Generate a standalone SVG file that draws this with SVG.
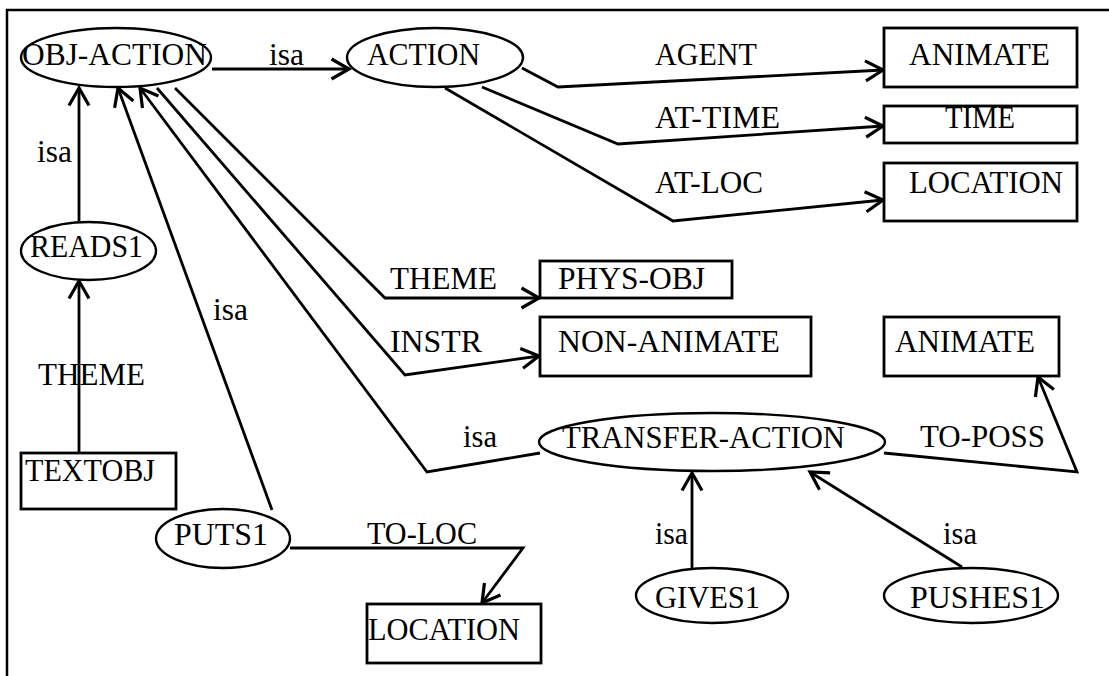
<svg xmlns="http://www.w3.org/2000/svg" width="1109" height="676" viewBox="0 0 1109 676">
<style>
  text { font-size: 32px; fill: #000; }
  .node ellipse, .node rect { fill: #fff; stroke: #000; stroke-width: 2.4; }
  .node rect { stroke-width: 2.8; }
  .conn path { fill: none; stroke: #000; stroke-width: 2.8; marker-end: url(#arr); }
  .frame { fill: none; stroke: #000; stroke-width: 2.5; }
</style>
<defs>
  <marker id="arr" markerUnits="userSpaceOnUse" viewBox="-20 -12 22 24" markerWidth="22" markerHeight="24" refX="0" refY="0" orient="auto" overflow="visible">
    <path d="M-17.5,-10 L0,0 L-17.5,10" fill="none" stroke="#000" stroke-width="3.2"/>
  </marker>
</defs>
<rect width="1109" height="676" fill="#fff"/>
<path class="frame" d="M7,676 L7,10 L1109,10"/>

<g font-family="Liberation Serif, serif">
<g id="connectors" class="conn">
  <path d="M212,69 L349,69"/>
  <text x="269" y="65" textLength="35" lengthAdjust="spacingAndGlyphs">isa</text>
  <path d="M522,68 L558,87 L883,70"/>
  <text x="655" y="65" textLength="102" lengthAdjust="spacingAndGlyphs">AGENT</text>
  <path d="M482,87 L618,144 L883,126"/>
  <text x="655" y="128" textLength="125" lengthAdjust="spacingAndGlyphs">AT-TIME</text>
  <path d="M445,88 L673,221 L883,200"/>
  <text x="655" y="193" textLength="108" lengthAdjust="spacingAndGlyphs">AT-LOC</text>
  <path d="M79,221 L79,88"/>
  <text x="37" y="162" textLength="35" lengthAdjust="spacingAndGlyphs">isa</text>
  <path d="M79,453 L79,281"/>
  <text x="38" y="385" textLength="107" lengthAdjust="spacingAndGlyphs">THEME</text>
  <path d="M272,510 L118,88"/>
  <text x="213" y="320" textLength="35" lengthAdjust="spacingAndGlyphs">isa</text>
  <path d="M540,453 L427,472 L140,88"/>
  <text x="463" y="447" textLength="34" lengthAdjust="spacingAndGlyphs">isa</text>
  <path d="M175,88 L385,298 L539,298"/>
  <text x="390" y="289" textLength="107" lengthAdjust="spacingAndGlyphs">THEME</text>
  <path d="M157,88 L405,375 L539,356"/>
  <text x="390" y="352" textLength="92" lengthAdjust="spacingAndGlyphs">INSTR</text>
  <path d="M884,453 L1077,472 L1038,377"/>
  <text x="920" y="447" textLength="125" lengthAdjust="spacingAndGlyphs">TO-POSS</text>
  <path d="M290,548 L523,548 L482,603"/>
  <text x="367" y="544" textLength="110" lengthAdjust="spacingAndGlyphs">TO-LOC</text>
  <path d="M692,568 L692,473"/>
  <text x="655" y="544" textLength="33" lengthAdjust="spacingAndGlyphs">isa</text>
  <path d="M962,567 L810,472"/>
  <text x="943" y="544" textLength="34" lengthAdjust="spacingAndGlyphs">isa</text>
</g>

<g id="obj-action" class="node"><ellipse cx="116" cy="57.5" rx="95" ry="29.5"/><text x="22" y="65" textLength="185" lengthAdjust="spacingAndGlyphs">OBJ-ACTION</text></g>
<g id="action" class="node"><ellipse cx="435" cy="57.5" rx="88" ry="29.5"/><text x="367" y="65" textLength="113" lengthAdjust="spacingAndGlyphs">ACTION</text></g>
<g id="animate1" class="node"><rect x="884" y="28" width="193" height="59"/><text x="909" y="65" textLength="141" lengthAdjust="spacingAndGlyphs">ANIMATE</text></g>
<g id="time" class="node"><rect x="884" y="106" width="193" height="37"/><text x="945" y="128" textLength="70" lengthAdjust="spacingAndGlyphs">TIME</text></g>
<g id="location1" class="node"><rect x="884" y="163" width="193" height="58"/><text x="909" y="193" textLength="154" lengthAdjust="spacingAndGlyphs">LOCATION</text></g>
<g id="reads1" class="node"><ellipse cx="88.5" cy="251" rx="67.5" ry="29"/><text x="30" y="257" textLength="113" lengthAdjust="spacingAndGlyphs">READS1</text></g>
<g id="phys-obj" class="node"><rect x="540" y="261" width="192" height="37"/><text x="558" y="289" textLength="147" lengthAdjust="spacingAndGlyphs">PHYS-OBJ</text></g>
<g id="non-animate" class="node"><rect x="540" y="317" width="271" height="59"/><text x="558" y="352" textLength="222" lengthAdjust="spacingAndGlyphs">NON-ANIMATE</text></g>
<g id="animate2" class="node"><rect x="884" y="317" width="175" height="59"/><text x="895" y="352" textLength="140" lengthAdjust="spacingAndGlyphs">ANIMATE</text></g>
<g id="transfer-action" class="node"><ellipse cx="712" cy="442" rx="173" ry="29"/><text x="562" y="448" textLength="283" lengthAdjust="spacingAndGlyphs">TRANSFER-ACTION</text></g>
<g id="textobj" class="node"><rect x="21" y="453" width="155" height="56"/><text x="25" y="481" textLength="130" lengthAdjust="spacingAndGlyphs">TEXTOBJ</text></g>
<g id="puts1" class="node"><ellipse cx="223" cy="538.5" rx="67" ry="29.5"/><text x="174" y="545" textLength="94" lengthAdjust="spacingAndGlyphs">PUTS1</text></g>
<g id="gives1" class="node"><ellipse cx="712" cy="595.5" rx="76" ry="27.5"/><text x="655" y="608" textLength="105" lengthAdjust="spacingAndGlyphs">GIVES1</text></g>
<g id="pushes1" class="node"><ellipse cx="971" cy="595.5" rx="87" ry="27.5"/><text x="910" y="608" textLength="135" lengthAdjust="spacingAndGlyphs">PUSHES1</text></g>
<g id="location2" class="node"><rect x="367" y="604" width="174" height="59"/><text x="368" y="640" textLength="152" lengthAdjust="spacingAndGlyphs">LOCATION</text></g>
</g>
</svg>
